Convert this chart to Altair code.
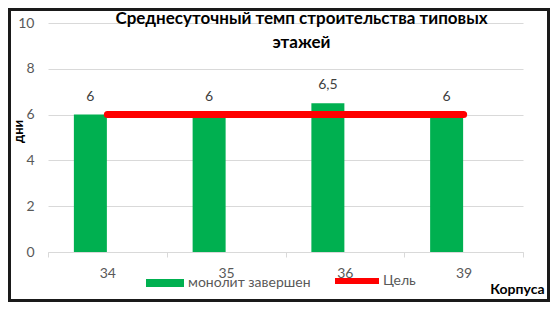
import altair as alt
import pandas as pd

categories = ["34", "35", "36", "39"]
completed = [6, 6, 6.5, 6]
target = [6, 6, 6, 6]
bar_name = "монолит завершен"
line_name = "Цель"
title_lines = ["Среднесуточный темп строительства типовых", "этажей"]
y_title = "дни"
x_title = "Корпуса"
y_ticks = [0, 2, 4, 6, 8, 10]

df = pd.DataFrame({
    "corpus": categories,
    "value": completed,
    "target": target,
    "series": [bar_name] * len(categories),
    "tseries": [line_name] * len(categories),
})

FONT = "Lato"
W, H = 475, 229
GREEN = "#00b050"
RED = "#ff0000"
GRAY = "#595959"

x_enc = alt.X(
    "corpus:N", sort=categories,
    scale=alt.Scale(paddingInner=0, paddingOuter=0),
    axis=alt.Axis(
        title=x_title, titleFont=FONT, titleFontSize=14, titleFontWeight="bold",
        titleColor="#000000", titleAlign="right", titleX=496, titleY=37,
        titleBaseline="middle", titleAngle=0,
        labelAngle=0, labelFont=FONT, labelFontSize=14, labelColor=GRAY,
        labelPadding=9, domainColor="#d9d9d9", tickColor="#d9d9d9",
        tickSize=5, tickBand="extent", grid=False,
    ),
)

y_enc = alt.Y(
    "value:Q", scale=alt.Scale(domain=[0, 10]),
    axis=alt.Axis(
        values=y_ticks, title=y_title, titleFont=FONT, titleFontSize=13,
        titleFontWeight="bold", titleColor="#000000", titleX=-30, titleY=108,
        titleAngle=270, titleBaseline="middle", titleAlign="center",
        labelFont=FONT, labelFontSize=14, labelColor=GRAY, labelPadding=14,
        ticks=False, domain=False, gridColor="#d9d9d9", gridWidth=1,
    ),
)

bars = alt.Chart(df).mark_bar(width=33, xOffset=-17).encode(
    x=x_enc,
    y=y_enc,
    fill=alt.Fill(
        "series:N",
        scale=alt.Scale(domain=[bar_name], range=[GREEN]),
        legend=alt.Legend(
            orient="none", legendX=98, legendY=241, title=None, padding=0,
            symbolType="M-1,-0.21H1V0.21H-1Z", symbolSize=1444,
            symbolStrokeWidth=0, labelFont=FONT, labelFontSize=14,
            labelColor=GRAY, labelOffset=4,
        ),
    ),
)

labels = alt.Chart(df).transform_calculate(
    lbl="replace(format(datum.value, '~g'), '.', ',')"
).mark_text(
    xOffset=-17, dy=-18, baseline="middle", font=FONT, fontSize=14, color="#404040"
).encode(
    x=alt.X("corpus:N", sort=categories),
    y=alt.Y("value:Q"),
    text="lbl:N",
)

line = alt.Chart(df).mark_line(strokeWidth=7, strokeCap="round").encode(
    x=alt.X("corpus:N", sort=categories),
    y=alt.Y("target:Q"),
    stroke=alt.Stroke(
        "tseries:N",
        scale=alt.Scale(domain=[line_name], range=[RED]),
        legend=alt.Legend(
            orient="none", legendX=284, legendY=233, title=None, padding=0,
            symbolType="stroke", symbolSize=1936, symbolStrokeWidth=6,
            labelFont=FONT, labelFontSize=14, labelColor=GRAY, labelOffset=1,
        ),
    ),
)

frame = alt.Chart(alt.Data(values=[{}])).mark_rect(
    filled=False, stroke="#1a1a1a", strokeWidth=3
).encode(
    x=alt.value(-38.5), x2=alt.value(W + 27 - 1.5),
    y=alt.value(-13.5), y2=alt.value(H + 50 - 1.5),
)

chart = alt.layer(bars, labels, line, frame).properties(
    width=W, height=H,
    title=alt.Title(
        text=title_lines, anchor="middle", font=FONT, fontSize=17,
        fontWeight="bold", color="#000000", offset=-44, dx=16, lineHeight=24,
    ),
    autosize=alt.AutoSizeParams(type="none"),
    padding={"left": 40, "top": 15, "right": 27, "bottom": 50},
    background="white",
).resolve_scale(fill="independent", stroke="independent").configure_view(stroke=None)

chart.save("out.html", embed_options={"renderer": "svg", "actions": False})
